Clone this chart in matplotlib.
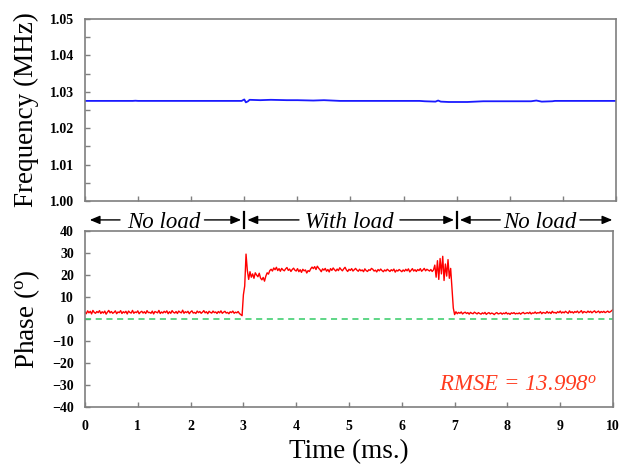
"""
Frequency and phase response with and without load.
"""

import numpy as np
import matplotlib.pyplot as plt
import matplotlib.transforms as mtransforms


# Data

freq_time = [0.0, 0.9, 0.95, 1.0, 2.95, 3.0, 3.03, 3.07, 3.1, 3.3, 3.5, 3.8, 4.0,
             4.3, 4.5, 4.8, 6.3, 6.4, 6.6, 6.65, 6.7, 6.85, 7.2, 7.5, 8.4, 8.5,
             8.6, 8.8, 8.85, 10.0]
freq_mhz = [1.0275, 1.0275, 1.02755, 1.0275, 1.0275, 1.0279, 1.0271, 1.0274, 1.0278,
            1.0277, 1.0278, 1.0277, 1.0277, 1.0276, 1.0277, 1.0275, 1.0275, 1.0274,
            1.0273, 1.0276, 1.0273, 1.0272, 1.0272, 1.0274, 1.0274, 1.0276, 1.0273,
            1.0274, 1.0275, 1.0275]

# phase sampled every 0.025 ms from 0 to 10 ms
phase_deg = [
    # no load, 0 - 2.975 ms
    3.2, 2.4, 3.7, 2.8, 3.5, 2.3, 3.9, 3.0, 2.6, 3.4,
    2.9, 3.8, 2.5, 3.3, 2.7, 3.6, 2.2, 3.1, 3.9, 2.8,
    3.4, 2.6, 3.0, 3.7, 2.4, 3.2, 2.9, 3.8, 2.5, 3.3,
    2.8, 3.5, 2.3, 3.6, 3.0, 2.7, 3.9, 2.6, 3.2, 2.9,
    3.7, 2.4, 3.1, 3.5, 2.7, 3.3, 2.5, 3.8, 2.9, 3.0,
    2.6, 3.6, 2.3, 3.4, 3.1, 2.8, 3.9, 2.5, 3.2, 2.7,
    3.5, 2.9, 3.7, 2.4, 3.3, 2.6, 3.8, 3.0, 2.7, 3.4,
    2.5, 3.6, 3.1, 2.8, 4.0, 2.6, 3.3, 2.9, 3.5, 2.4,
    3.2, 3.7, 2.7, 3.0, 2.5, 3.6, 2.9, 3.4, 2.6, 3.1,
    3.8, 2.8, 3.3, 2.4, 3.5, 3.0, 2.7, 3.6, 2.9, 3.2,
    2.5, 3.4, 2.8, 3.7, 2.6, 3.1, 3.5, 2.7, 3.0, 2.4,
    3.3, 2.9, 3.6, 2.6, 3.1, 2.8, 3.4, 2.5, 2.0, 1.5,
    # load applied, 3.0 - 3.5 ms
    11.0, 15.0, 29.5, 22.0, 18.0, 21.5, 19.0, 20.5, 18.5, 21.0,
    20.0, 19.2, 20.8, 18.6, 17.8, 18.9, 17.2, 19.5, 21.0, 20.4,
    22.0,
    # with load, 3.525 - 6.6 ms
    22.6, 21.8, 23.2, 22.4, 23.5, 22.0, 22.9, 21.7, 23.0, 22.3,
    21.9, 22.8, 23.4, 22.1, 22.7, 21.6, 22.5, 23.1, 22.2, 21.8,
    22.9, 21.5, 22.4, 21.2, 22.6, 21.9, 22.3, 20.9, 22.0, 21.6,
    22.8, 23.6, 22.9, 23.8, 22.5, 24.0, 23.1, 22.4, 21.5, 22.8,
    22.2, 23.0, 21.7, 22.5, 21.4, 22.9, 22.1, 23.2, 22.4, 21.8,
    22.7, 22.0, 23.3, 22.5, 21.9, 22.8, 23.5, 22.3, 21.6, 22.6,
    22.1, 22.9, 21.8, 22.4, 23.0, 22.2, 21.7, 22.6, 21.9, 22.3,
    21.5, 22.8, 22.0, 21.6, 22.4, 22.1, 23.0, 22.6, 21.8, 22.2,
    21.4, 22.5, 21.9, 22.7, 22.0, 21.5, 22.3, 21.8, 22.6, 22.1,
    21.6, 22.4, 21.9, 22.7, 21.3, 22.2, 21.8, 22.5, 22.0, 21.5,
    22.3, 21.7, 22.6, 21.9, 22.8, 21.4, 22.1, 22.9, 21.8, 22.4,
    21.6, 22.5, 22.0, 22.9, 21.7, 22.3, 23.0, 21.9, 22.6, 22.2,
    21.8, 22.5, 21.6, 22.3,
    # load removed, 6.625 - 7.0 ms
    24.5, 19.0, 26.5, 18.0, 27.5, 20.5, 28.5, 17.5, 25.0, 19.5,
    27.0, 18.5, 23.0, 14.0, 5.0, 2.0,
    # no load, 7.025 - 10 ms
    3.3, 2.4, 3.0, 2.6, 3.2, 2.3, 2.8, 3.1, 2.5, 2.9,
    2.2, 3.0, 2.6, 2.4, 3.1, 2.7, 2.3, 2.9, 2.5, 2.2,
    2.8, 2.4, 3.0, 2.1, 2.6, 2.9, 2.3, 2.7, 2.5, 2.0,
    2.6, 2.9, 2.3, 2.5, 2.8, 2.2, 2.7, 2.4, 3.0, 2.3,
    2.6, 2.1, 2.8, 2.5, 2.9, 2.3, 2.6, 2.4, 2.8, 2.2,
    2.7, 3.0, 2.4, 2.6, 2.9, 2.5, 3.1, 2.3, 2.8, 2.6,
    3.2, 2.5, 2.9, 2.7, 3.3, 2.4, 3.0, 2.8, 2.6, 3.4,
    2.7, 3.1, 2.5, 3.5, 2.8, 3.0, 2.6, 3.3, 2.9, 3.6,
    2.7, 3.2, 2.8, 3.5, 3.0, 2.6, 3.7, 2.9, 3.3, 2.7,
    3.4, 3.0, 3.6, 2.8, 3.2, 3.8, 2.7, 3.4, 3.1, 2.9,
    3.6, 3.0, 3.5, 2.8, 3.3, 3.7, 2.9, 3.2, 3.6, 2.8,
    3.4, 3.0, 3.5, 2.9, 3.2, 3.6, 3.0, 3.3, 3.8, 4.3]

phase_time = np.linspace(0, 10, len(phase_deg))

segment_labels = ['No load', 'With load', 'No load']
segment_bounds = [3, 7]
rmse_text = 'RMSE = 13.998$^{o}$'


# Plot settings

plt.rcParams['font.family'] = 'Liberation Serif'
plt.rcParams['mathtext.fontset'] = 'custom'
plt.rcParams['mathtext.rm'] = 'Liberation Serif'
plt.rcParams['mathtext.it'] = 'Liberation Serif:italic'

spine_color = '#7f7f7f'
tick_font = dict(family='Liberation Serif', weight='bold', size=10)


def style_axes(ax):
    """Grey frame, inward ticks, bold serif tick labels."""

    for spine in ax.spines.values():
        spine.set_color(spine_color)
        spine.set_linewidth(1.2)
    ax.tick_params(which='both', direction='in', color=spine_color,
                   length=3.5, width=1.0)
    ax.tick_params(axis='y', pad=8)
    ax.tick_params(axis='x', pad=9)
    for label in ax.get_xticklabels() + ax.get_yticklabels():
        label.set_fontproperties(tick_font)


fig = plt.figure(figsize=[6.23, 4.66], dpi=100)
ax_freq = fig.add_axes([0.1364, 0.5687, 0.8524, 0.3905])
ax_phase = fig.add_axes([0.1364, 0.1266, 0.8476, 0.3777])

# Frequency
ax_freq.plot(freq_time, freq_mhz, color='#1a1aff', linewidth=1.3)
ax_freq.set_xlim(0, 10)
ax_freq.set_ylim(1.00, 1.05)
ax_freq.set_xticks(np.arange(0, 11, 1))
ax_freq.set_xticklabels([])
ax_freq.set_yticks(np.arange(1.00, 1.051, 0.01))
ax_freq.set_yticks(np.arange(1.005, 1.05, 0.01), minor=True)
ax_freq.set_yticklabels(['%.2f' % v for v in np.arange(1.00, 1.051, 0.01)])
ax_freq.set_ylabel('Frequency (MHz)', fontsize=19.5, labelpad=8)
style_axes(ax_freq)

# Load segments below the frequency panel: (left head, left tail, text, right tail, right head)
trans = mtransforms.blended_transform_factory(ax_freq.transData, ax_freq.transAxes)
seg_layout = [(0.09, 0.66, 1.49, 2.25, 2.94),
              (3.06, 4.03, 4.98, 5.93, 6.95),
              (7.06, 7.82, 8.57, 9.32, 9.93)]
y_arrow = -0.104
y_text = -0.146
arrow = dict(arrowstyle='-|>,head_length=0.6,head_width=0.25',
             color='black', linewidth=1.0, shrinkA=0, shrinkB=0)
for label, (lh, lt, mid, rt, rh) in zip(segment_labels, seg_layout):
    ax_freq.text(mid, y_text, label, transform=trans, ha='center', va='baseline',
                 fontsize=16.5, style='italic', clip_on=False)
    ax_freq.annotate('', xy=(lh, y_arrow), xytext=(lt, y_arrow), xycoords=trans,
                     textcoords=trans, arrowprops=arrow, annotation_clip=False)
    ax_freq.annotate('', xy=(rh, y_arrow), xytext=(rt, y_arrow), xycoords=trans,
                     textcoords=trans, arrowprops=arrow, annotation_clip=False)
for bound in segment_bounds:
    ax_freq.plot([bound, bound], [y_arrow - 0.045, y_arrow + 0.045], transform=trans,
                 color='black', linewidth=1.6, clip_on=False)

# Phase
ax_phase.axhline(0, color='#33cc66', linewidth=1.1, linestyle=(0, (4, 3)))
ax_phase.plot(phase_time, phase_deg, color='#ff0000', linewidth=1.0)
ax_phase.set_xlim(0, 10)
ax_phase.set_ylim(-40, 40)
ax_phase.set_xticks(np.arange(0, 11, 1))
ax_phase.set_yticks(np.arange(-40, 41, 10))
ax_phase.set_xlabel('Time (ms.)', fontsize=19.5, labelpad=5)
ax_phase.set_ylabel(r'Phase ($^{\mathrm{o}}$)', fontsize=19.5, labelpad=7)
ax_phase.text(0.97, 0.095, rmse_text, transform=ax_phase.transAxes, style='italic',
              ha='right', va='baseline', fontsize=16.5, color='#ff3b1f')
style_axes(ax_phase)

plt.savefig('out.png', dpi=100)
